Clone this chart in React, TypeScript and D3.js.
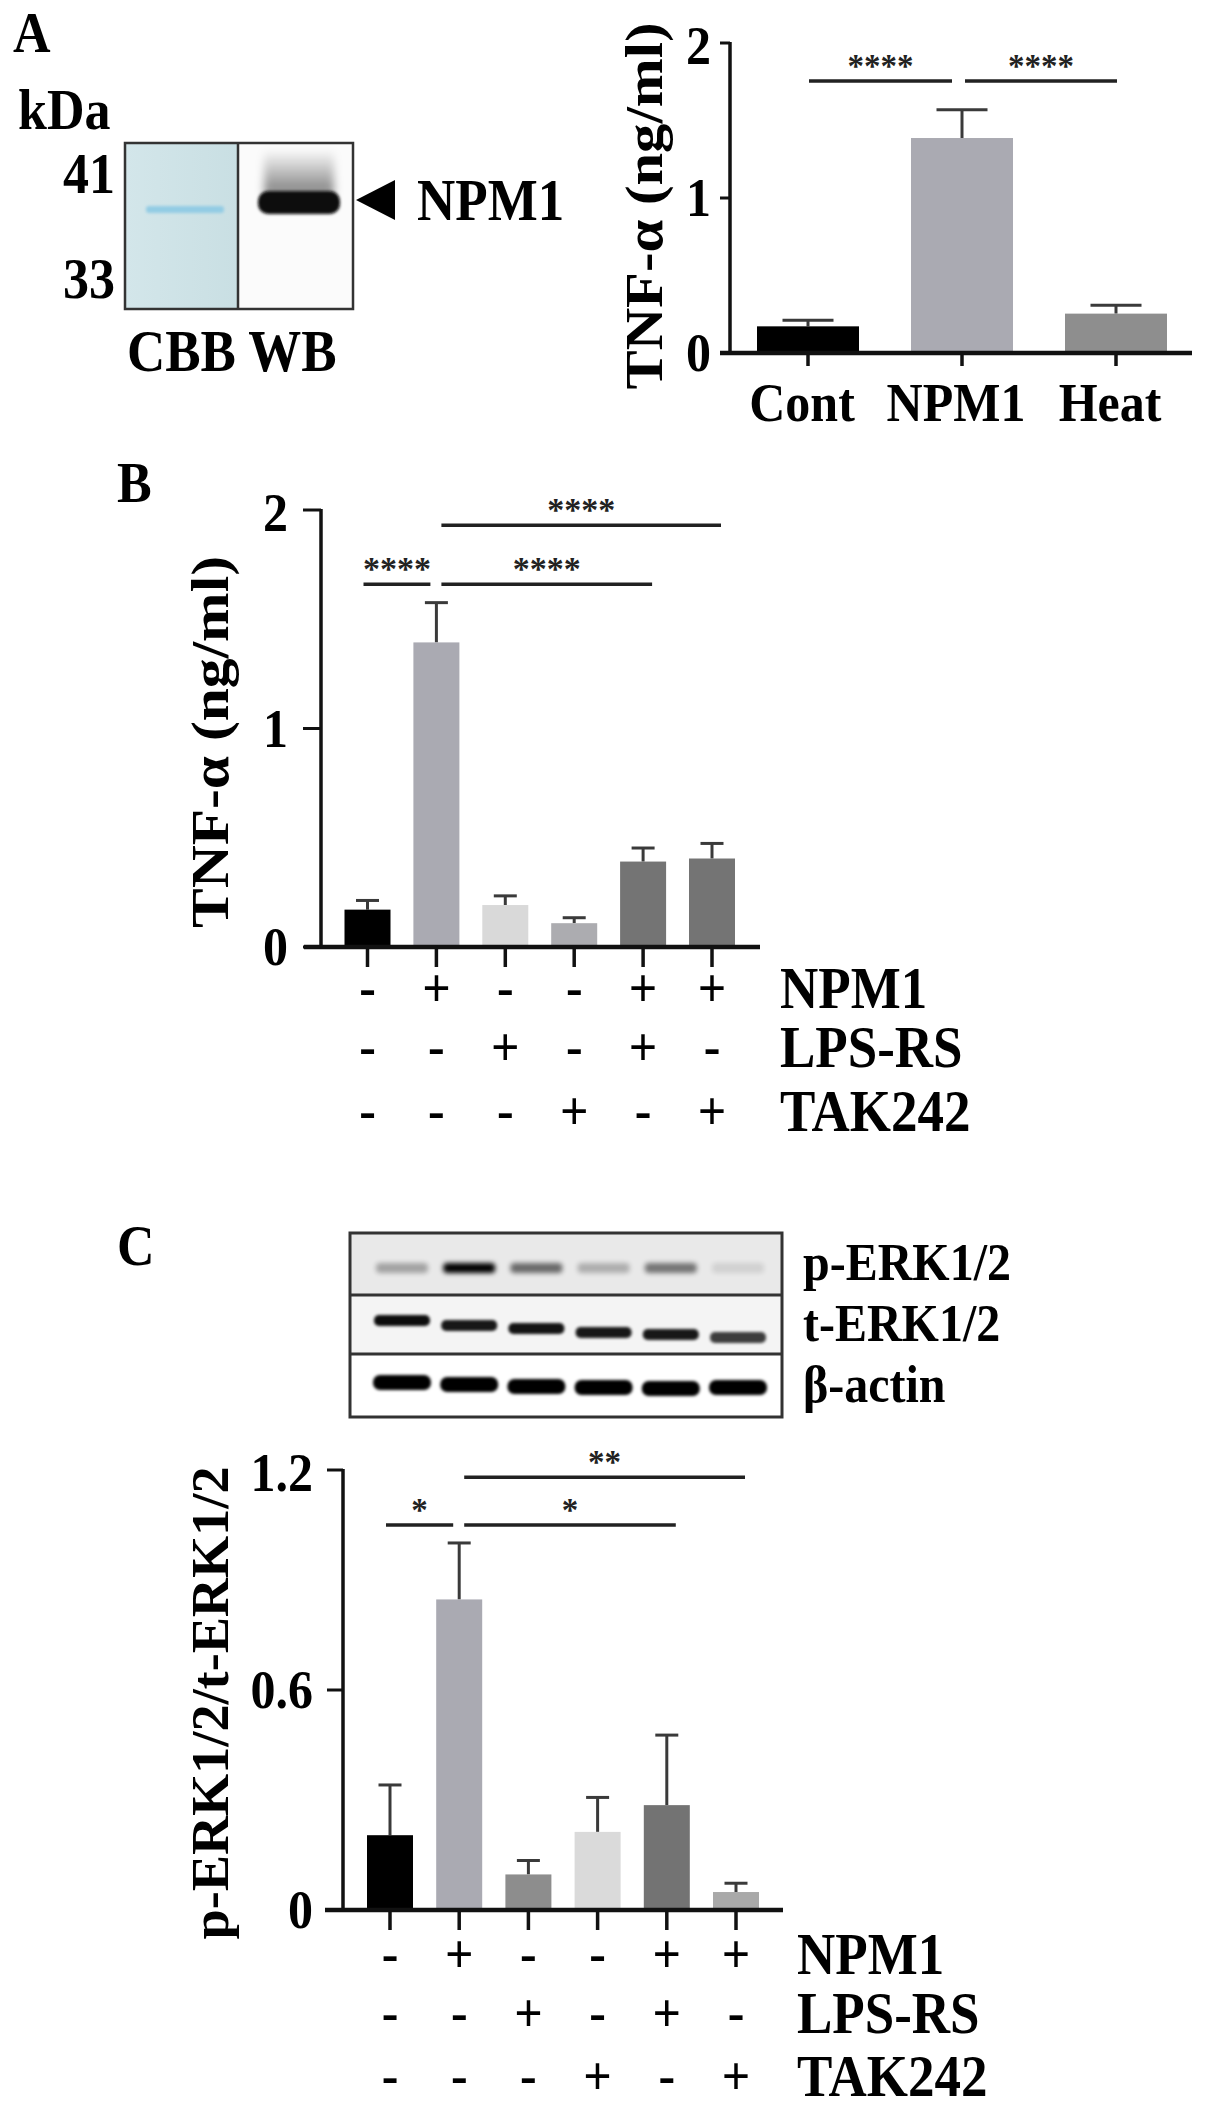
import React from "react";
import * as d3 from "d3";

const FONT = "'Liberation Serif', 'Times New Roman', Times, serif";
const SY = 1.1;

// ---------- Panel A data ----------
const catA = ["Cont", "NPM1", "Heat"];
const meanA = [0.172, 1.387, 0.254];
const semA = [0.039, 0.183, 0.054];
const colorA = ["#000000", "#aaaab2", "#8e8e8e"];
const ticksA = [0, 1, 2];
const sigA = [
  { from: 0, to: 1, level: 1.755, label: "****" },
  { from: 1, to: 2, level: 1.755, label: "****" },
];

// ---------- Panel B data ----------
const groups = ["g1", "g2", "g3", "g4", "g5", "g6"];
const meanB = [0.171, 1.394, 0.192, 0.109, 0.391, 0.405];
const semB = [0.042, 0.182, 0.042, 0.025, 0.062, 0.069];
const colorB = ["#000000", "#aaaab2", "#d9d9d9", "#acacb0", "#747474", "#747474"];
const ticksB = [0, 1, 2];
const sigB = [
  { from: 0, to: 1, level: 1.66, label: "****" },
  { from: 1, to: 4, level: 1.66, label: "****" },
  { from: 1, to: 5, level: 1.93, label: "****" },
];

// ---------- Panel C data ----------
const meanC = [0.204, 0.847, 0.097, 0.213, 0.286, 0.049];
const semC = [0.137, 0.154, 0.038, 0.094, 0.191, 0.024];
const colorC = ["#000000", "#aaaab2", "#8d8d8d", "#dadada", "#737373", "#a9a9a9"];
const ticksC = [0, 0.6, 1.2];
const tickLabelsC = ["0", "0.6", "1.2"];
const sigC = [
  { from: 0, to: 1, level: 1.05, label: "*" },
  { from: 1, to: 4, level: 1.05, label: "*" },
  { from: 1, to: 5, level: 1.18, label: "**" },
];

// treatment table (same for B and C)
const rowNames = ["NPM1", "LPS-RS", "TAK242"];
const rowNPM1 = ["-", "+", "-", "-", "+", "+"];
const rowLPS = ["-", "-", "+", "-", "+", "-"];
const rowTAK = ["-", "-", "-", "+", "-", "+"];
const rows = [rowNPM1, rowLPS, rowTAK];

// blot band intensities (C)
const pErkIntensity = [0.3, 1.0, 0.55, 0.25, 0.5, 0.1];
const tErkIntensity = [0.95, 0.9, 0.92, 0.9, 0.9, 0.75];
const tErkShift = [0, 5, 8, 12, 14, 17];
const actinIntensity = [1, 1, 1, 1, 1, 1];
const actinShift = [0, 2, 4, 5, 6, 5];

function T({ x, y, size, anchor = "start", children, sy = SY, fill = "#000" }: any) {
  return (
    <text
      x={0}
      y={0}
      transform={`translate(${x},${y}) scale(1,${sy})`}
      fontSize={size}
      fontFamily={FONT}
      fontWeight="bold"
      textAnchor={anchor}
      fill={fill}
    >
      {children}
    </text>
  );
}

function RotTitle({ cx, cy, size, length, children }: any) {
  return (
    <text
      x={0}
      y={0}
      transform={`translate(${cx},${cy}) rotate(-90)`}
      fontSize={size}
      fontFamily={FONT}
      fontWeight="bold"
      textAnchor="middle"
      textLength={length}
      lengthAdjust="spacingAndGlyphs"
      fill="#000"
    >
      {children}
    </text>
  );
}

function BarChart({
  cats, means, sems, colors, x, y, barW, axisX, axisXStart, axisXEnd, ticks, tickLabels,
  yTickLen, xTickLen, tickGap, sigs, starSize, sigOffsets,
}: any) {
  const y0 = y(0);
  const yTop = y(ticks[ticks.length - 1]);
  return (
    <g>
      {cats.map((c: string, i: number) => {
        const cx = x(c);
        const top = y(means[i]);
        const errTop = y(means[i] + sems[i]);
        return (
          <g key={c + i}>
            <line x1={cx} x2={cx} y1={top} y2={errTop} stroke="#3a3a3a" strokeWidth={3} />
            <line x1={cx - barW / 4} x2={cx + barW / 4} y1={errTop} y2={errTop} stroke="#3a3a3a" strokeWidth={3} />
            <rect x={cx - barW / 2} y={top} width={barW} height={y0 - top} fill={colors[i]} />
            <line x1={cx} x2={cx} y1={y0} y2={y0 + xTickLen} stroke="#111" strokeWidth={3.5} />
          </g>
        );
      })}
      <line x1={axisX} x2={axisX} y1={yTop - 1} y2={y0} stroke="#111" strokeWidth={3.5} />
      <line x1={axisXStart} x2={axisXEnd} y1={y0} y2={y0} stroke="#111" strokeWidth={4.5} />
      {ticks.map((t: number, i: number) => (
        <g key={"t" + i}>
          <line x1={axisX - yTickLen} x2={axisX} y1={y(t)} y2={y(t)} stroke="#111" strokeWidth={3} />
          <T x={axisX - yTickLen - tickGap} y={y(t) + 18 + (i === ticks.length - 1 ? 3 : 0)} size={50} anchor="end">
            {tickLabels[i]}
          </T>
        </g>
      ))}
      {sigs.map((s: any, i: number) => {
        const off = sigOffsets(s);
        const x1 = x(cats[s.from]) + off[0];
        const x2 = x(cats[s.to]) + off[1];
        const ly = y(s.level);
        return (
          <g key={"s" + i}>
            <line x1={x1} x2={x2} y1={ly} y2={ly} stroke="#222" strokeWidth={3.5} />
            <text
              x={(x1 + x2) / 2}
              y={ly - 4}
              fontSize={starSize}
              fontFamily={FONT}
              fontWeight="bold"
              textAnchor="middle"
              fill="#222"
            >
              {s.label}
            </text>
          </g>
        );
      })}
    </g>
  );
}

function Table({ x, rowYs, labelX }: any) {
  return (
    <g>
      {rows.map((r: string[], ri: number) => (
        <g key={"r" + ri}>
          {r.map((s: string, i: number) => (
            <T key={i} x={x(groups[i])} y={rowYs[ri] + 18} size={50} anchor="middle">
              {s}
            </T>
          ))}
          <T x={labelX} y={rowYs[ri] + 20} size={53}>
            {rowNames[ri]}
          </T>
        </g>
      ))}
    </g>
  );
}

export default function App() {
  // Panel A scales
  const xA = d3.scalePoint<string>().domain(catA).range([808, 1116]);
  const yA = d3.scaleLinear().domain([0, 2]).range([353, 43]);
  // Panel B scales
  const xB = d3.scalePoint<string>().domain(groups).range([367.5, 712]);
  const yB = d3.scaleLinear().domain([0, 2]).range([947, 510]);
  // Panel C scales
  const xC = d3.scalePoint<string>().domain(groups).range([390, 736]);
  const yC = d3.scaleLinear().domain([0, 1.2]).range([1910, 1470]);
  // blot lanes
  const lanes = d3.scalePoint<string>().domain(groups).range([402, 738]);

  const offBC = (s: any) => [s.from === 0 ? -4 : 5, s.to === 1 ? -6 : 9];
  const offA = (s: any) => [s.from === 0 ? 1 : 3, s.to === 1 ? -10 : 1];

  return (
    <svg
      width={1205}
      height={2112}
      viewBox="0 0 1205 2112"
      style={{ position: "absolute", left: 0, top: 0, background: "#fff" }}
    >
      <defs>
        <filter id="b1" x="-20%" y="-50%" width="140%" height="200%">
          <feGaussianBlur stdDeviation="1.6" />
        </filter>
        <filter id="b2" x="-20%" y="-80%" width="140%" height="260%">
          <feGaussianBlur stdDeviation="2.5" />
        </filter>
        <filter id="b4" x="-30%" y="-50%" width="160%" height="200%">
          <feGaussianBlur stdDeviation="4" />
        </filter>
        <linearGradient id="smear" x1="0" y1="0" x2="0" y2="1">
          <stop offset="0" stopColor="#000" stopOpacity="0" />
          <stop offset="1" stopColor="#000" stopOpacity="0.5" />
        </linearGradient>
        <linearGradient id="cbb" x1="0" y1="0" x2="1" y2="0">
          <stop offset="0" stopColor="#d3e6ea" />
          <stop offset="1" stopColor="#c9dfe3" />
        </linearGradient>
      </defs>
      <rect x={0} y={0} width={1205} height={2112} fill="#fff" />

      {/* ================= Panel A ================= */}
      <T x={13} y={52} size={52}>A</T>
      <T x={18} y={129} size={52}>kDa</T>
      <T x={115} y={193} size={52} anchor="end">41</T>
      <T x={115} y={298} size={52} anchor="end">33</T>
      {/* blot */}
      <rect x={125} y={143} width={113} height={166} fill="url(#cbb)" />
      <rect x={238} y={143} width={115} height={166} fill="#fbfbfb" />
      <rect x={146} y={206} width={78} height={7} rx={3} fill="#93cce4" filter="url(#b1)" />
      <rect x={264} y={150} width={70} height={45} fill="url(#smear)" filter="url(#b4)" />
      <rect x={258} y={191} width={82} height={23} rx={10} fill="#080808" filter="url(#b1)" />
      <rect x={125} y={143} width={228} height={166} fill="none" stroke="#333" strokeWidth={2.5} />
      <line x1={238} x2={238} y1={143} y2={309} stroke="#333" strokeWidth={2.5} />
      <polygon points="356,200 395,180 395,220" fill="#000" />
      <T x={417} y={220} size={53}>NPM1</T>
      <T x={127} y={371} size={53}>CBB WB</T>

      {/* chart A */}
      <RotTitle cx={662} cy={206} size={52} length={367}>TNF-α (ng/ml)</RotTitle>
      <BarChart
        cats={catA}
        means={meanA}
        sems={semA}
        colors={colorA}
        x={xA}
        y={yA}
        barW={102}
        axisX={730}
        axisXStart={720}
        axisXEnd={1192}
        ticks={ticksA}
        tickLabels={ticksA.map(String)}
        yTickLen={10}
        xTickLen={13}
        tickGap={9}
        sigs={sigA}
        starSize={33}
        sigOffsets={offA}
      />
      {catA.map((c) => (
        <T key={c} x={xA(c)! - 6} y={421} size={50} anchor="middle">
          {c}
        </T>
      ))}

      {/* ================= Panel B ================= */}
      <T x={117} y={502} size={52}>B</T>
      <RotTitle cx={228} cy={742} size={52} length={372}>TNF-α (ng/ml)</RotTitle>
      <BarChart
        cats={groups}
        means={meanB}
        sems={semB}
        colors={colorB}
        x={xB}
        y={yB}
        barW={46}
        axisX={321}
        axisXStart={304}
        axisXEnd={760}
        ticks={ticksB}
        tickLabels={ticksB.map(String)}
        yTickLen={18}
        xTickLen={20}
        tickGap={15}
        sigs={sigB}
        starSize={34}
        sigOffsets={offBC}
      />
      <Table x={xB} rowYs={[988, 1047, 1111]} labelX={780} />

      {/* ================= Panel C ================= */}
      <T x={117} y={1265} size={52}>C</T>
      {/* blot */}
      <rect x={350} y={1233} width={432} height={62} fill="#e9e9e9" />
      <rect x={350} y={1295} width={432} height={59} fill="#f4f4f4" />
      <rect x={350} y={1354} width={432} height={63} fill="#ffffff" />
      {groups.map((g, i) => (
        <g key={"lane" + i}>
          <rect
            x={lanes(g)! - 26}
            y={1263}
            width={52}
            height={10}
            rx={4}
            fill="#000"
            opacity={pErkIntensity[i]}
            filter="url(#b2)"
          />
          <rect
            x={lanes(g)! - 28}
            y={1315 + tErkShift[i]}
            width={56}
            height={11}
            rx={5}
            fill="#000"
            opacity={tErkIntensity[i]}
            filter="url(#b1)"
          />
          <rect
            x={lanes(g)! - 29}
            y={1375 + actinShift[i]}
            width={58}
            height={15}
            rx={7}
            fill="#000"
            opacity={actinIntensity[i]}
            filter="url(#b1)"
          />
        </g>
      ))}
      <rect x={350} y={1233} width={432} height={184} fill="none" stroke="#333" strokeWidth={3} />
      <line x1={350} x2={782} y1={1295} y2={1295} stroke="#333" strokeWidth={3} />
      <line x1={350} x2={782} y1={1354} y2={1354} stroke="#333" strokeWidth={3} />
      <T x={803} y={1280} size={48}>p-ERK1/2</T>
      <T x={803} y={1341} size={48}>t-ERK1/2</T>
      <T x={803} y={1402} size={48}>β-actin</T>

      <RotTitle cx={228} cy={1703} size={52} length={473}>p-ERK1/2/t-ERK1/2</RotTitle>
      <BarChart
        cats={groups}
        means={meanC}
        sems={semC}
        colors={colorC}
        x={xC}
        y={yC}
        barW={46}
        axisX={343}
        axisXStart={325}
        axisXEnd={783}
        ticks={ticksC}
        tickLabels={tickLabelsC}
        yTickLen={16}
        xTickLen={20}
        tickGap={14}
        sigs={sigC}
        starSize={33}
        sigOffsets={offBC}
      />
      <Table x={xC} rowYs={[1954, 2013, 2076]} labelX={797} />
    </svg>
  );
}
